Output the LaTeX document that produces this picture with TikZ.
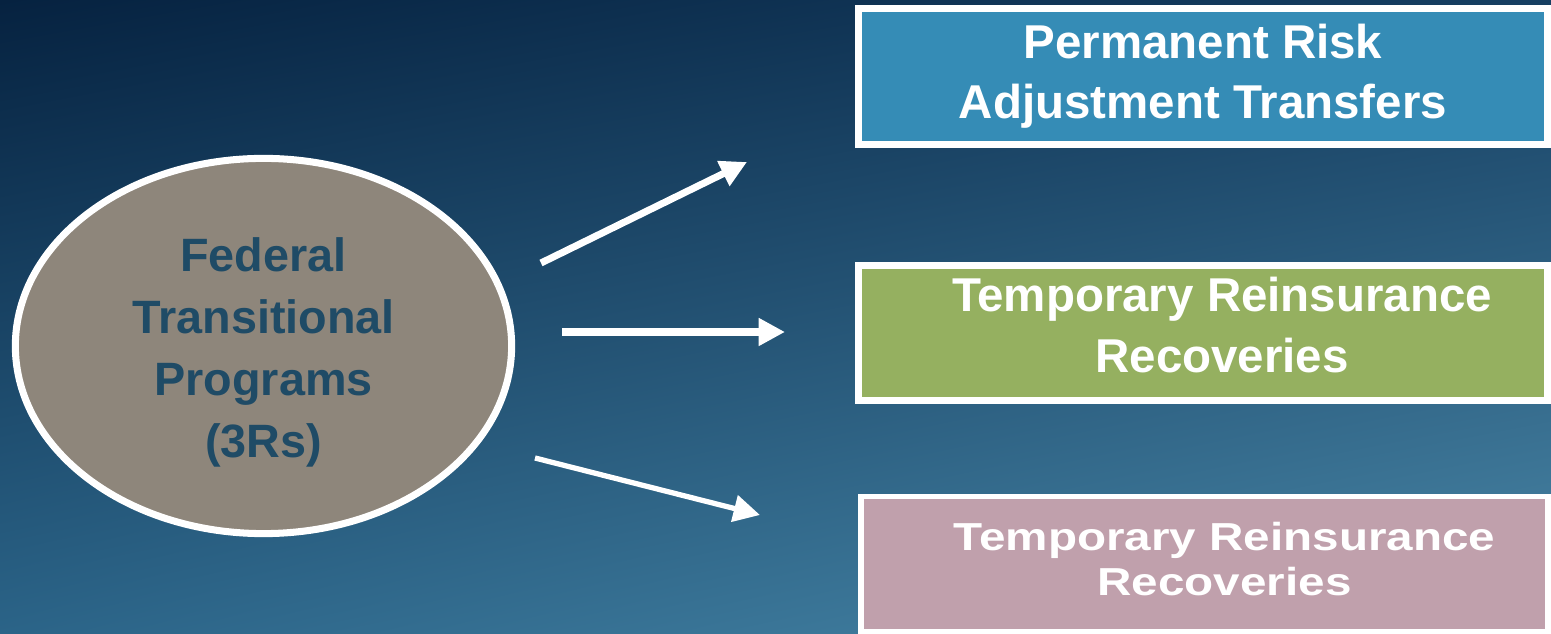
\documentclass[tikz,border=0pt]{standalone}
\usepackage{fontspec}
\setmainfont{Liberation Sans}
\newfontfamily\widefont[FakeStretch=1.22]{Liberation Sans}
\usepackage{tikz}
\usetikzlibrary{arrows.meta,shapes.geometric,shadings}

\definecolor{bgTL}{HTML}{062240}
\definecolor{bgTR}{HTML}{163F62}
\definecolor{bgBL}{HTML}{2B6488}
\definecolor{bgBR}{HTML}{4A88A8}
\definecolor{ovalfill}{HTML}{8E867B}
\definecolor{ovaltext}{HTML}{1F4B66}
\definecolor{riskblue}{HTML}{358CB6}
\definecolor{reingreen}{HTML}{95B060}
\definecolor{reinmauve}{HTML}{C0A0AC}

\tikzset{
  prog/.style={ellipse,draw=white,line width=2pt,fill=ovalfill,inner sep=0pt,
    minimum width=4.96cm,minimum height=3.75cm,align=center,text=ovaltext,
    font=\fontsize{13.3}{17.6}\selectfont\bfseries},
  outbox/.style={rectangle,draw=white,line width=2pt,inner sep=0pt,
    minimum width=6.89cm,minimum height=1.36cm,align=center,text=white,
    font=\fontsize{13.5}{17}\selectfont\bfseries},
  flow/.style={->,draw=white,line width=2pt}
}

\begin{document}
\begin{tikzpicture}[line cap=butt,line join=miter,>={Triangle[length=7.5pt,width=7.5pt]},x=0.01cm,y=-0.01cm]
		% background
		\useasboundingbox (0,0) rectangle (1551,634);
		\shade[upper left=bgTL,upper right=bgTR,lower left=bgBL,lower right=bgBR] (0,0) rectangle (1551,634);
		\clip (0,0) rectangle (1551,634);
		
		% programs
		\node[prog] (fed) at (263.5,346) {\rule{0pt}{13.4pt}Federal\\Transitional\\Programs\\(3Rs)};
		\node[outbox,fill=riskblue] (risk) at (1203,76.5) {Permanent Risk\\Adjustment Transfers};
		\node[outbox,fill=reingreen,minimum height=1.35cm,font=\fontsize{13.5}{17.3}\selectfont\bfseries] (reco) at (1203,333)
		  {\hspace*{0.38cm}Temporary Reinsurance\\\hspace*{0.38cm}Recoveries\rule[-4.5pt]{0pt}{0pt}};
		\node[outbox,fill=reinmauve,line width=1.6pt,minimum width=6.87cm,minimum height=1.35cm,
		  font=\widefont\fontsize{11.1}{12.8}\selectfont\bfseries] (reco2) at (1204.5,564)
		  {\hspace*{0.4cm}Temporary Reinsurance\\\hspace*{0.4cm}Recoveries\rule[-2.8pt]{0pt}{0pt}};
		
		% arrow ends
		\coordinate (s1) at (541,263);
		\coordinate (e1) at (747,162);
		\coordinate (s2) at (562,332);
		\coordinate (e2) at (785,332);
		\coordinate (s3) at (535,458);
		\coordinate (e3) at (760,515);
		
		\draw[flow] (s1) -- (e1);
		\draw[flow] (s2) -- (e2);
		\draw[flow,line width=1.5pt] (s3) -- (e3);
	\end{tikzpicture}
\end{document}
